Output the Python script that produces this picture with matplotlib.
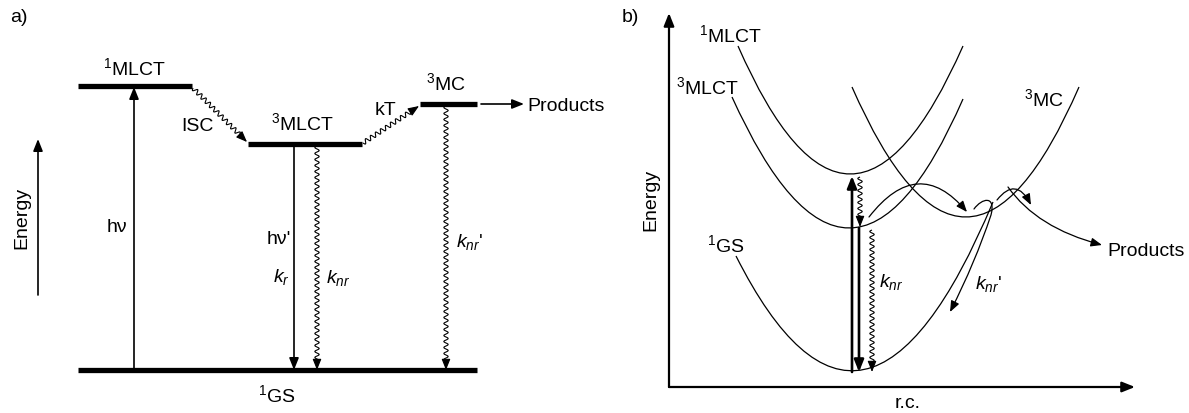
import numpy as np
import matplotlib
matplotlib.use("Agg")
import matplotlib.pyplot as plt
from matplotlib.path import Path
from matplotlib.patches import FancyArrowPatch, PathPatch

plt.rcParams['font.family'] = ['Liberation Sans', 'DejaVu Sans']
plt.rcParams['mathtext.fontset'] = 'custom'
plt.rcParams['mathtext.rm'] = 'Liberation Sans'
plt.rcParams['mathtext.it'] = 'Liberation Sans:italic'

FS = 14

# ---- panel a: energy levels (x0, x1, y) in picture pixels ----
level_names = ["1MLCT", "3MLCT", "3MC", "1GS"]
level_x0 = [78, 248, 420, 78]
level_x1 = [192, 362, 477, 477]
level_y = [87, 145, 105, 371]

# straight arrows (x0, y0) -> (x1, y1)
a_arrows = [((134, 371), (134, 88)),      # hv
            ((294, 147), (294, 371)),     # hv' / kr
            ((481, 105), (524, 105)),     # -> Products
            ((38, 296), (38, 140))]       # Energy axis
# wavy arrows
a_wavy = [((193, 89), (247, 143)),        # ISC
          ((363, 144), (419, 107)),       # kT
          ((317, 147), (317, 371)),       # knr
          ((446, 107), (446, 371))]       # knr'

a_labels = [(134, 68, r"$^{1}$MLCT", {}),
            (302, 123, r"$^{3}$MLCT", {}),
            (446, 83, r"$^{3}$MC", {}),
            (277, 395, r"$^{1}$GS", {}),
            (197, 127, "ISC", {}),
            (385, 111, "kT", {}),
            (117, 228, "hν", {}),
            (279, 240, "hν'", {}),
            (281, 277, r"$k_r$", {}),
            (338, 278, r"$k_{nr}$", {}),
            (470, 242, r"$k_{nr}$'", {}),
            (527, 107, "Products", {"ha": "left"}),
            (19, 17, "a)", {}),
            (22, 218, "Energy", {"rotation": 90})]

# ---- panel b: potential curves as quadratic Beziers (start, control, end) ----
curve_names = ["1MLCT", "3MLCT", "3MC", "1GS"]
curve_start = [(738, 47), (732, 98), (852, 88), (736, 257)]
curve_ctrl = [(850, 303), (850, 359), (966, 348), (864, 511)]
curve_end = [(963, 47), (963, 100), (1079, 88), (993, 203)]

b_arrows = [((852, 373), (852, 177)),     # excitation
            ((859, 229), (859, 373))]     # emission
b_wavy = [((860, 178), (860, 228)),       # 1MLCT -> 3MLCT
          ((872, 231), (872, 373))]       # knr

# curved arrows: list of (codes, vertices)
b_curved = [
    ([Path.MOVETO, Path.CURVE3, Path.CURVE3], [(869, 218), (918, 155), (967, 213)]),
    ([Path.MOVETO, Path.CURVE4, Path.CURVE4, Path.CURVE4, Path.CURVE3, Path.CURVE3],
     [(974, 210), (982, 199), (996, 196), (991, 216), (975, 264), (950, 313)]),
    ([Path.MOVETO, Path.CURVE3, Path.CURVE3], [(997, 201), (1016, 177), (1031, 206)]),
    ([Path.MOVETO, Path.CURVE3, Path.CURVE3], [(1008, 188), (1037, 229), (1102, 246)]),
]

b_labels = [(730, 35, r"$^{1}$MLCT", {}),
            (707, 87, r"$^{3}$MLCT", {}),
            (1044, 99, r"$^{3}$MC", {}),
            (726, 245, r"$^{1}$GS", {}),
            (879, 282, r"$k_{nr}$", {"ha": "left"}),
            (975, 284, r"$k_{nr}$'", {"ha": "left"}),
            (1107, 252, "Products", {"ha": "left"}),
            (630, 17, "b)", {}),
            (651, 200, "Energy", {"rotation": 90}),
            (908, 404, "r.c.", {})]

b_axes = [((669, 388), (669, 14)), ((669, 388), (1135, 388))]


def arrow(ax, p0, p1, lw=1.2, ms=13):
    ax.annotate("", xy=p1, xytext=p0,
                arrowprops=dict(arrowstyle="-|>,head_length=0.55,head_width=0.22",
                                lw=lw, color="k", shrinkA=0, shrinkB=0,
                                mutation_scale=ms))


def wavy(ax, p0, p1, amp=2.2, wl=6.0, head=8):
    p0 = np.array(p0, float)
    p1 = np.array(p1, float)
    d = p1 - p0
    L = np.hypot(*d)
    u = d / L
    n = np.array([-u[1], u[0]])
    s = np.linspace(0, L - head, 400)
    pts = p0 + np.outer(s, u) + np.outer(amp * np.sin(2 * np.pi * s / wl), n)
    ax.plot(pts[:, 0], pts[:, 1], color="k", lw=0.8, solid_capstyle="butt")
    arrow(ax, p0 + u * (L - head - 1), p1, lw=0.8, ms=12)


fig = plt.figure(figsize=(11.89, 4.14), dpi=100)
ax = fig.add_axes([0, 0, 1, 1])
ax.set_xlim(0, 1189)
ax.set_ylim(414, 0)
ax.axis("off")

# panel a
for x0, x1, y in zip(level_x0, level_x1, level_y):
    ax.plot([x0, x1], [y, y], color="k", lw=3.8, solid_capstyle="butt")
for p0, p1 in a_arrows:
    arrow(ax, p0, p1)
for p0, p1 in a_wavy:
    wavy(ax, p0, p1)
for x, y, t, kw in a_labels:
    opts = dict(ha="center", va="center", fontsize=FS)
    opts.update(kw)
    ax.text(x, y, t, **opts)

# panel b
for p0, p1 in b_axes:
    arrow(ax, p0, p1, lw=1.6, ms=14)
for s, c, e in zip(curve_start, curve_ctrl, curve_end):
    path = Path([s, c, e], [Path.MOVETO, Path.CURVE3, Path.CURVE3])
    ax.add_patch(PathPatch(path, fc="none", ec="k", lw=0.9))
for p0, p1 in b_arrows:
    arrow(ax, p0, p1, lw=1.9, ms=13)
for p0, p1 in b_wavy:
    wavy(ax, p0, p1)
for codes, verts in b_curved:
    ax.add_patch(FancyArrowPatch(path=Path(verts, codes),
                                 arrowstyle="-|>,head_length=0.55,head_width=0.22",
                                 mutation_scale=12, lw=0.9, color="k"))
for x, y, t, kw in b_labels:
    opts = dict(ha="center", va="center", fontsize=FS)
    opts.update(kw)
    ax.text(x, y, t, **opts)

fig.savefig("out.png", dpi=100)
